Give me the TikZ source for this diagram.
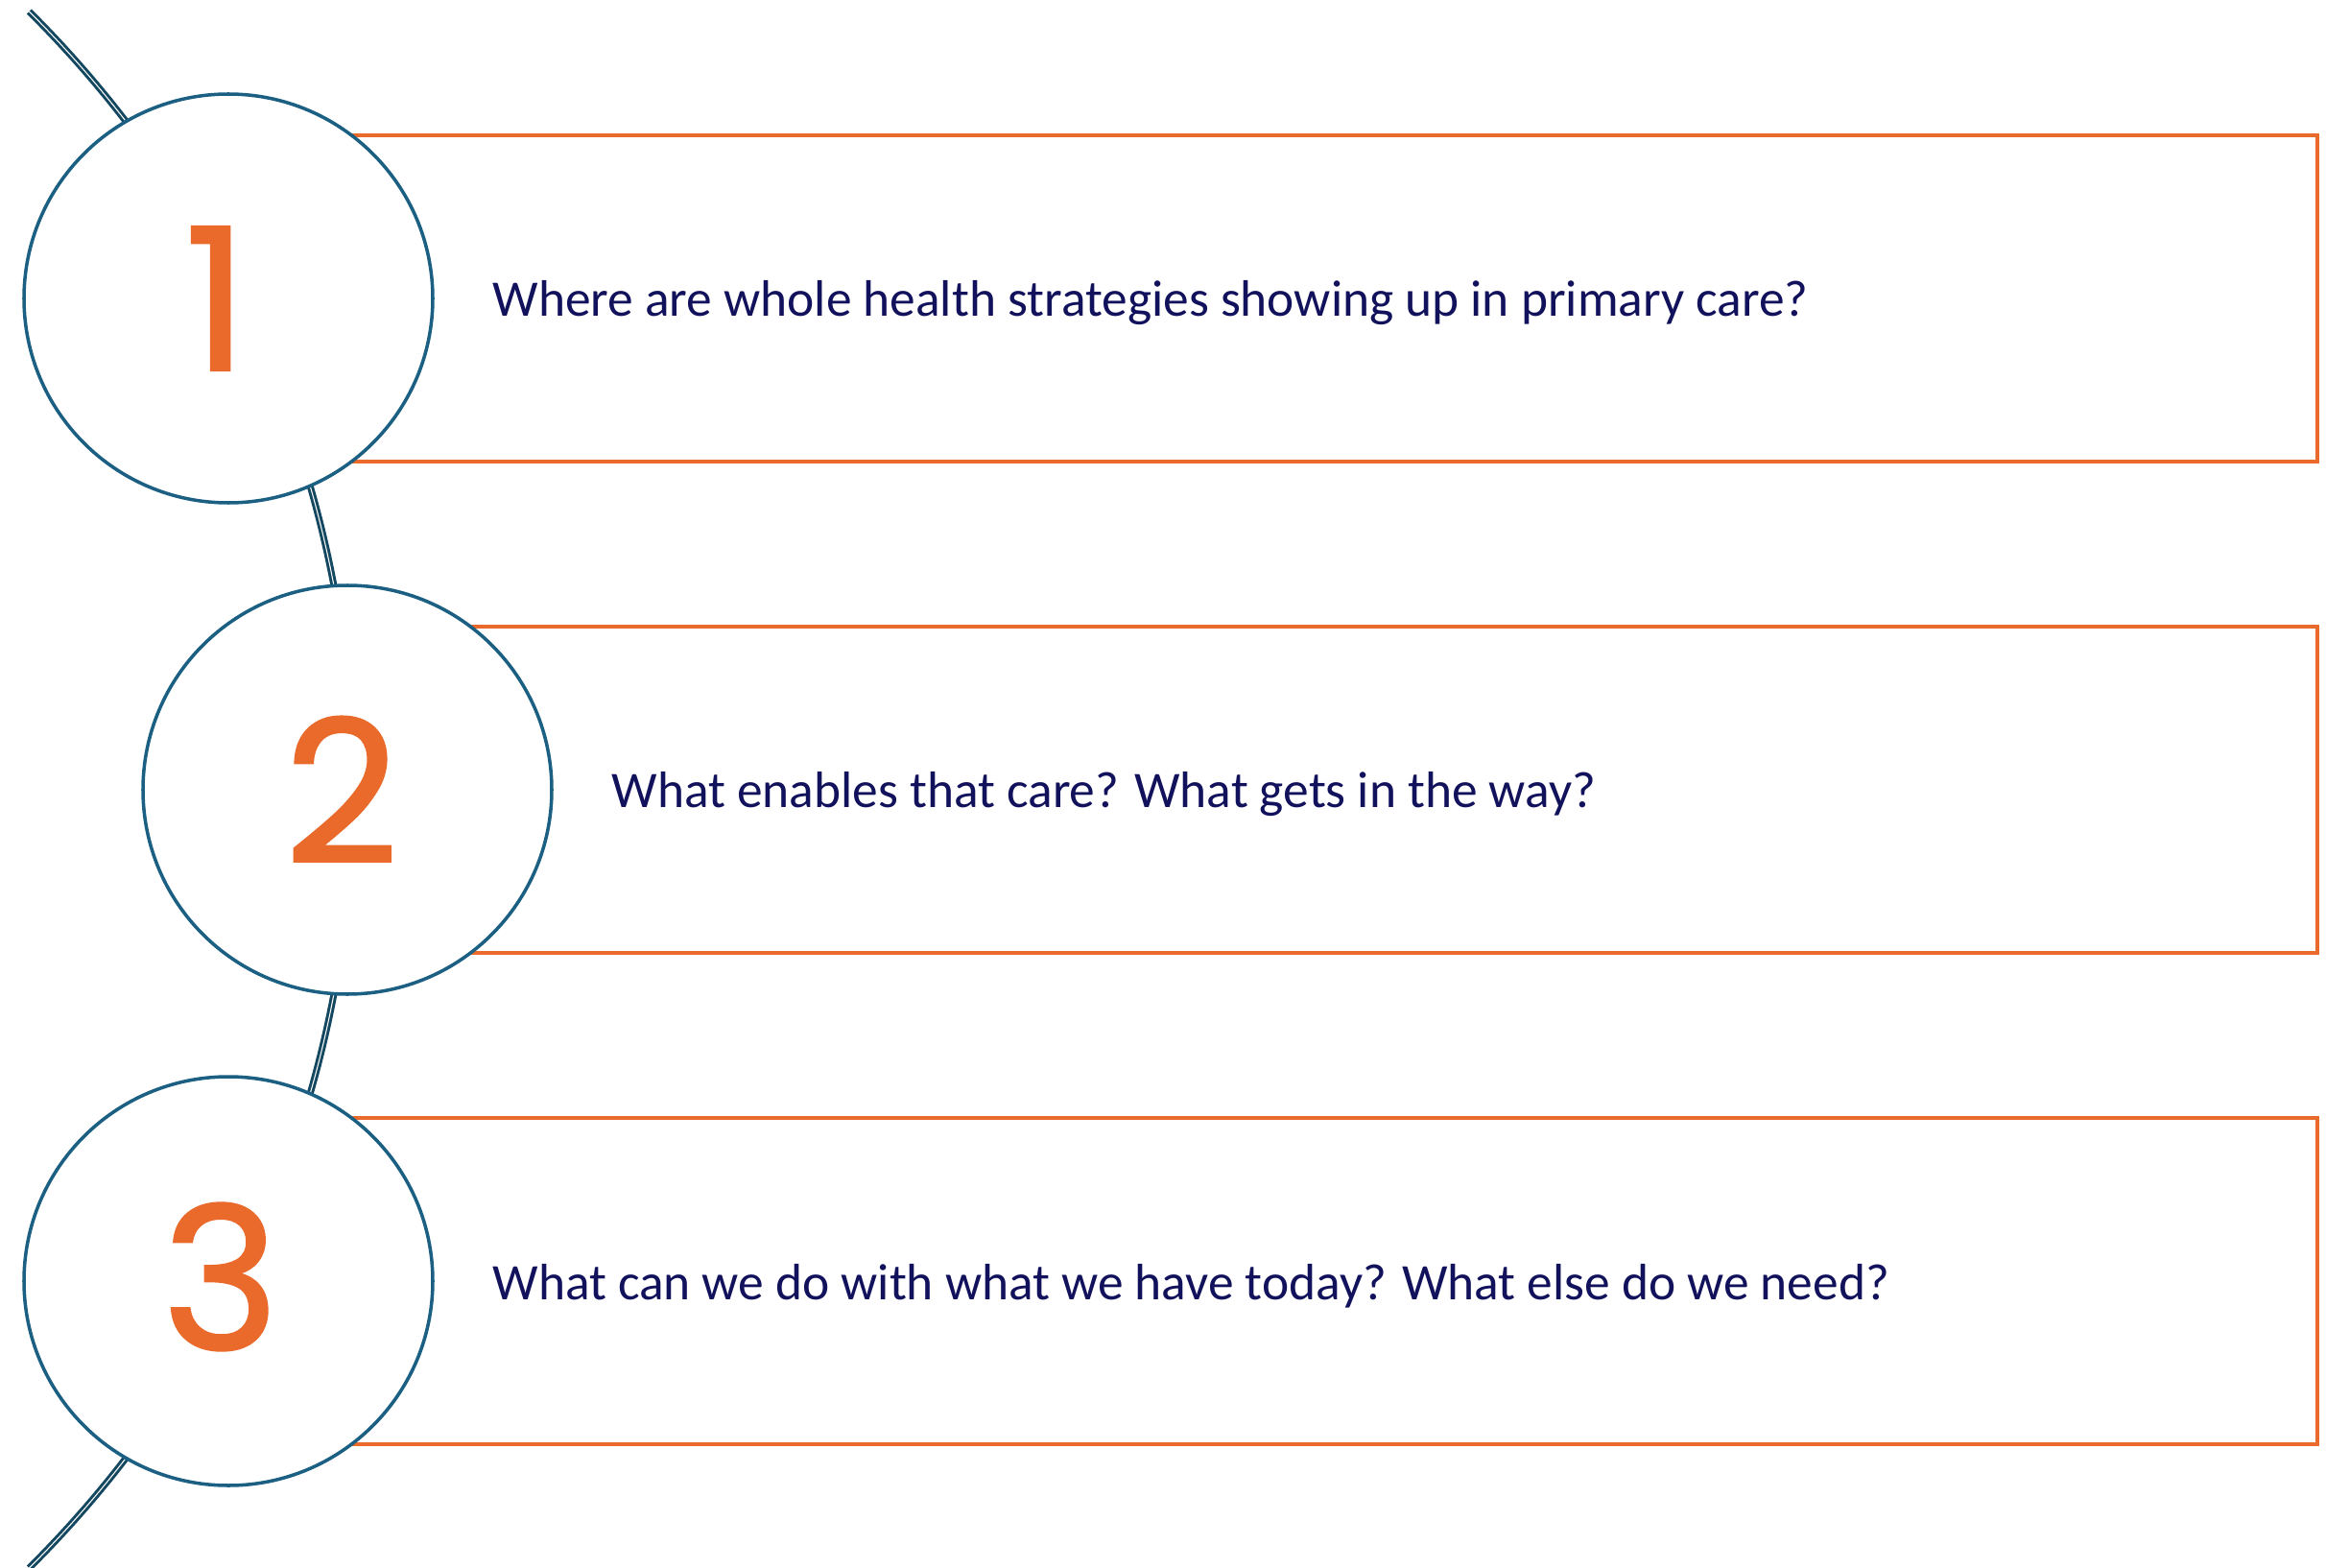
\documentclass[tikz,border=0pt]{standalone}
\usepackage{fontspec}
\setmainfont{Carlito}
\newfontfamily\numfont[FakeBold=1.2]{Poppins}
\usetikzlibrary{positioning,backgrounds}

\definecolor{stepteal}{HTML}{1B6082}
\definecolor{steporange}{HTML}{E96A2B}
\definecolor{stepnavy}{HTML}{11115C}

\tikzset{
	numcircle/.style={circle, draw=stepteal, line width=1pt, fill=white, minimum size=4.26cm, inner sep=0pt, text=steporange, font=\numfont\fontsize{59}{59}\selectfont},
	questionbox/.style={draw=steporange, line width=1pt},
	question/.style={text=stepnavy, font=\fontsize{15.2}{18}\selectfont, inner sep=0pt, yshift=-0.05cm},
	timeline/.style={draw=stepteal!75!black, line width=0.85pt, double=white, double distance=0.3pt}
}

\begin{document}
\begin{tikzpicture}
		\useasboundingbox (0,0) rectangle (24.24,-16.34);
		
		% numbered circles
		\node[numcircle] (num1) at (2.38,-3.11) {\raisebox{-0.11cm}{1}\hspace*{0.25cm}};
		\node[numcircle] (num2) at (3.62,-8.23) {2\hspace*{0.12cm}};
		\node[numcircle] (num3) at (2.38,-13.35) {\raisebox{0.1cm}{3}\hspace*{0.16cm}};
		
		% questions
		\node[question, right=0.6cm of num1] (q1) {Where are whole health strategies showing up in primary care?};
		\node[question, right=0.6cm of num2] (q2) {What enables that care? What gets in the way?};
		\node[question, right=0.6cm of num3] (q3) {What can we do with what we have today? What else do we need?};
		
		\begin{pgfonlayer}{background}
			% timeline
			\draw[timeline] (-7.75,-8.23) ++(45.2:11.43) arc[start angle=45.2, end angle=-45.2, radius=11.43];
			
			% boxes
			\draw[questionbox] ([yshift=1.7cm]num1.center) rectangle (24.15,-4.81);
			\draw[questionbox] ([yshift=1.7cm]num2.center) rectangle (24.15,-9.93);
			\draw[questionbox] ([yshift=1.7cm]num3.center) rectangle (24.15,-15.05);
		\end{pgfonlayer}
	\end{tikzpicture}
\end{document}
